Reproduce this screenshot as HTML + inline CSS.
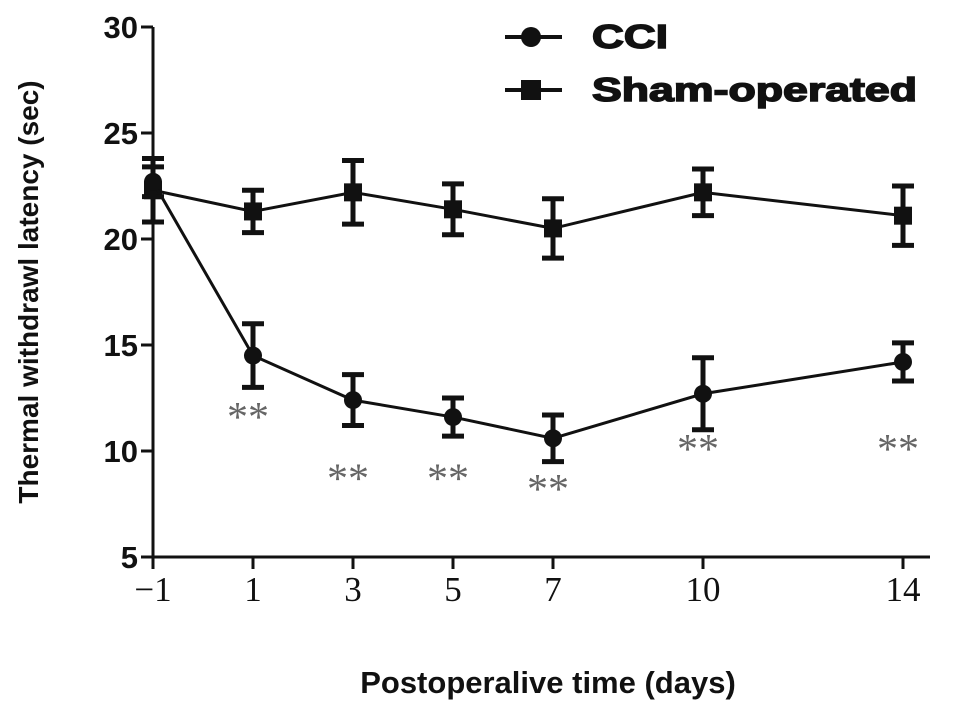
<!DOCTYPE html>
<html><head><meta charset="utf-8"><style>
body{margin:0;background:#fff;width:969px;height:712px;overflow:hidden}
svg{display:block}
.b{font-family:"Liberation Sans",sans-serif;font-weight:bold;fill:#111}
.s{font-family:"Liberation Serif",serif;fill:#111}
</style></head><body>
<svg id="c" width="969" height="712"></svg>
<script>
const days=[-1,1,3,5,7,10,14];
const cciMean=[22.7,14.5,12.4,11.6,10.6,12.7,14.2];
const cciErr=[0.7,1.5,1.2,0.9,1.1,1.7,0.9];
const shamMean=[22.3,21.3,22.2,21.4,20.5,22.2,21.1];
const shamErr=[1.5,1.0,1.5,1.2,1.4,1.1,1.4];
const yTicks=[5,10,15,20,25,30];
const xLabels=["\u22121","1","3","5","7","10","14"];
const starPos=[[1,11.7],[3,8.8],[5,8.8],[7,8.3],[10,10.2],[14,10.2]];
const NS="http://www.w3.org/2000/svg",svg=document.getElementById('c');
const X=d=>153+(d+1)*50, Y=v=>557-(v-5)*21.2;
function el(t,a,p){const e=document.createElementNS(NS,t);for(const k in a)e.setAttribute(k,a[k]);(p||svg).appendChild(e);return e;}
let e;
e=el('line',{x1:153,y1:27,x2:153,y2:557,stroke:'#111','stroke-width':3});


e=el('line',{x1:153,y1:557,x2:930,y2:557,stroke:'#111','stroke-width':3});


yTicks.forEach(v=>{
 el('line',{x1:141,y1:Y(v),x2:153,y2:Y(v),stroke:'#111','stroke-width':3});
 e=el('text',{x:138,y:Y(v)+11,'text-anchor':'end','font-size':31,class:'b'});e.textContent=v;
 
 
});
days.forEach((d,i)=>{
 el('line',{x1:X(d),y1:557,x2:X(d),y2:569,stroke:'#111','stroke-width':3});
 e=el('text',{x:X(d),y:601,'text-anchor':'middle','font-size':35,class:'s'});e.textContent=xLabels[i];
 
 
});
e=el('text',{x:548,y:693,'text-anchor':'middle','font-size':31,class:'b'});e.textContent='Postoperalive time (days)';


e=el('text',{x:0,y:0,'text-anchor':'middle','font-size':28,class:'b',transform:'translate(38,292) rotate(-90)'});e.textContent='Thermal withdrawl latency (sec)';


function series(m,er,shape,name){
 el('polyline',{points:days.map((d,i)=>X(d)+','+Y(m[i])).join(' '),fill:'none',stroke:'#111','stroke-width':3});
 days.forEach((d,i)=>{
  const x=X(d),t=Y(m[i]+er[i]),b=Y(m[i]-er[i]);
  el('path',{d:`M${x},${t}V${b}M${x-11},${t}H${x+11}M${x-11},${b}H${x+11}`,stroke:'#111','stroke-width':5,fill:'none'});
  e=shape=='c'?el('circle',{cx:x,cy:Y(m[i]),r:9,fill:'#111'}):el('rect',{x:x-9,y:Y(m[i])-9,width:18,height:18,fill:'#111'});
  
  
 });
}
series(shamMean,shamErr,'s','sham');
series(cciMean,cciErr,'c','cci');
starPos.forEach(p=>{
 e=el('text',{x:X(p[0])-5,y:Y(p[1])+16,'text-anchor':'middle','font-size':42,class:'s',style:'fill:#666'});e.textContent='**';
 
 
});
el('line',{x1:505,y1:37,x2:562,y2:37,stroke:'#111','stroke-width':4});
el('circle',{cx:531,cy:37,r:10,fill:'#111'});
e=el('text',{x:592,y:48,'font-size':33,class:'b',stroke:'#111','stroke-width':1.5,textLength:76,lengthAdjust:'spacingAndGlyphs'});e.textContent='CCI';


el('line',{x1:505,y1:90,x2:562,y2:90,stroke:'#111','stroke-width':4});
el('rect',{x:521,y:80,width:20,height:20,fill:'#111'});
e=el('text',{x:592,y:101,'font-size':33,class:'b',stroke:'#111','stroke-width':1.5,textLength:325,lengthAdjust:'spacingAndGlyphs'});e.textContent='Sham-operated';


</script>
</body></html>
